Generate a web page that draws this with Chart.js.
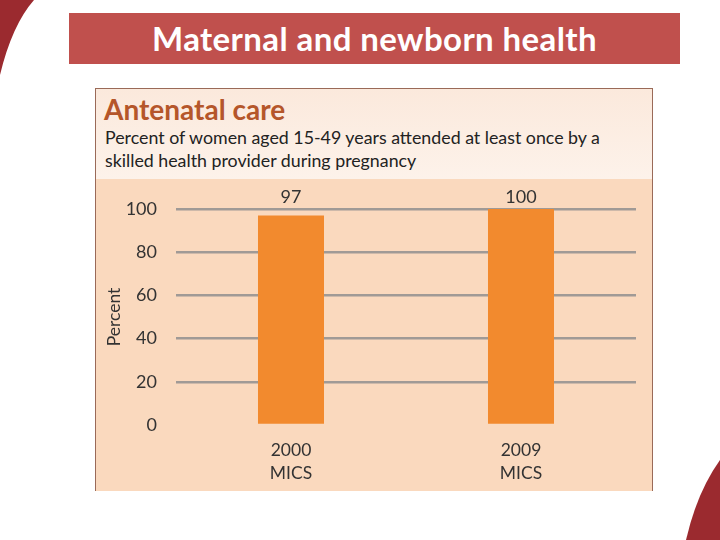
<!DOCTYPE html>
<html lang="en">
<head>
  <meta charset="UTF-8">
  <meta name="viewport" content="width=device-width, initial-scale=1.0">
  <script src="https://cdn.jsdelivr.net/npm/chart.js"></script>
  <title>Maternal and newborn health</title>
  <style>
    body{margin:0; width:720px; height:540px; background:#fff; position:relative; overflow:hidden; font-family:Lato, "Open Sans", sans-serif;}
    #deco{position:absolute; left:0; top:0;}
    #titleBar{position:absolute; left:69px; top:13px; width:611px; height:51px; background:#c0504d; color:#fff;
      font-weight:bold; font-size:33px; letter-spacing:0.4px; text-align:center; line-height:51px;}
    #panel{position:absolute; left:95px; top:88px; width:556px; height:402px; border:1px solid #9a6a58; border-bottom:none; background:#fad9be;}
    #head{position:absolute; left:0; top:0; width:556px; height:90px; background:linear-gradient(#fbe9dc,#fdf2ea);}
    #head h2{margin:0; position:absolute; left:8px; top:3px; font-size:28px; color:#b5562a; font-weight:bold;}
    #head p{margin:0; position:absolute; left:9px; top:37px; font-size:17.8px; line-height:23px; color:#222;}
    #wrap{position:absolute; left:0; top:90px; width:556px; height:312px;}
  </style>
</head>
<body>
  <svg id="deco" width="720" height="540">
    <path d="M0,0 L34,0 Q12,25 0,75 Z" fill="#9b2a2f"/>
    <path d="M720,460 Q697,492 686,540 L720,540 Z" fill="#9b2a2f"/>
  </svg>
  <div id="titleBar">Maternal and newborn health</div>
  <div id="panel">
    <div id="head">
      <h2>Antenatal care</h2>
      <p>Percent of women aged 15-49 years attended at least once by a<br>skilled health provider during pregnancy</p>
    </div>
    <div id="wrap">
      <canvas id="myChart" width="556" height="312"></canvas>
    </div>
  </div>
  <script>
    // data
    const surveys = [['2000', 'MICS'], ['2009', 'MICS']]
    const percentValues = [97, 100]
    const yTicks = [0, 20, 40, 60, 80, 100]

    // value labels above the bars (all at same height, like the slide)
    const valueLabels = {
      id: 'valueLabels',
      afterDatasetsDraw(chart){
        const ctx = chart.ctx
        const yTop = chart.scales.y.getPixelForValue(100) - 12
        ctx.save()
        ctx.font = '18px Lato, "Open Sans", sans-serif'
        ctx.fillStyle = '#333'
        ctx.textAlign = 'center'
        ctx.textBaseline = 'middle'
        chart.getDatasetMeta(0).data.forEach(function(bar, i){
          ctx.fillText(percentValues[i], bar.x, yTop)
        })
        ctx.restore()
      }
    }

    const ctx = document.getElementById('myChart')
    new Chart(ctx, {
      type: 'bar',
      data: {
        labels: surveys,
        datasets: [{
          data: percentValues,
          backgroundColor: '#f28a2e',
          barPercentage: 0.287,
          categoryPercentage: 1
        }]
      },
      options: {
        responsive: false,
        animation: false,
        layout: { padding: { top: 30, right: 16, left: 0, bottom: 0 } },
        plugins: { legend: { display: false }, tooltip: { enabled: false } },
        scales: {
          x: {
            grid: { display: false },
            border: { display: false },
            ticks: { color: '#333', font: { size: 17.5, family: 'Lato', lineHeight: 1.3 }, padding: 6 },
            afterFit: function(scale){ scale.height = 66 }
          },
          y: {
            min: 0, max: 100,
            afterBuildTicks: function(scale){ scale.ticks = yTicks.map(v => ({ value: v })) },
            grid: {
              drawTicks: false,
              color: c => c.tick.value === 0 ? 'rgba(0,0,0,0)' : '#a09a96',
              lineWidth: 2.5
            },
            border: { display: false },
            ticks: { color: '#333', font: { size: 18, family: 'Lato' }, padding: 19 },
            title: { display: true, text: 'Percent', color: '#333', font: { size: 17.5, family: 'Lato' }, padding: { top: 8, bottom: 0 } },
            afterFit: function(scale){ scale.width = 80 }
          }
        }
      },
      plugins: [valueLabels]
    })
  </script>
</body>
</html>
